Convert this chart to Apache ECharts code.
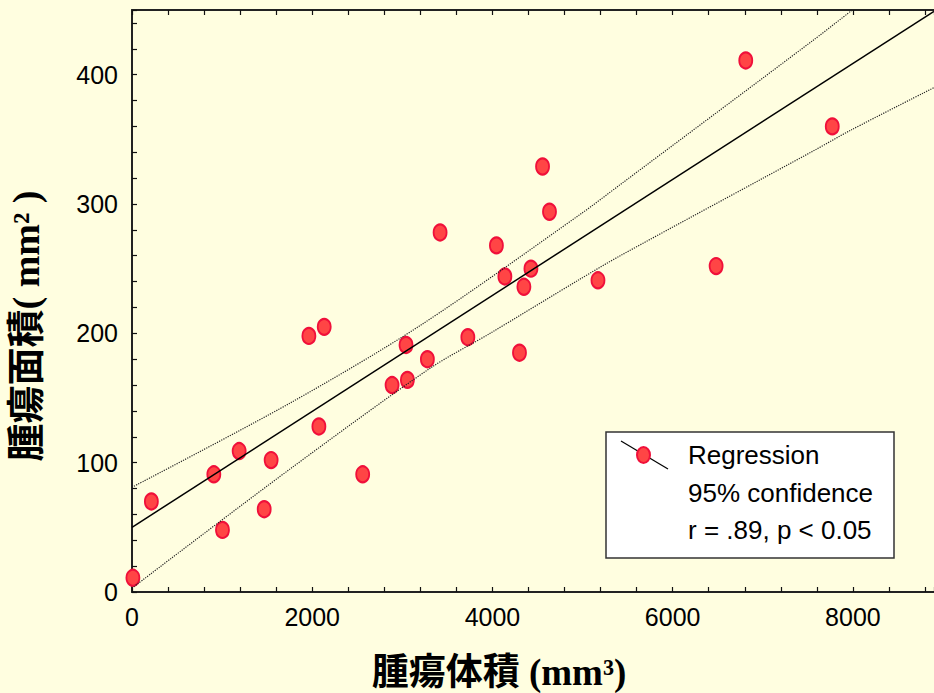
<!DOCTYPE html>
<html>
<head>
<meta charset="utf-8">
<script src="https://cdn.jsdelivr.net/npm/echarts@6/dist/echarts.min.js"></script>
<style>
html,body{margin:0;padding:0;background:#FFFEE0;}
#c{width:934px;height:693px;}
</style>
</head>
<body>
<div id="c"></div>
<script>
// ---- data ----
const tumorVolume = [10, 215, 908, 1004, 1189, 1467, 1544, 1963, 2133, 2074, 2560, 2886, 3056, 3041, 3278, 3727, 3419, 4044, 4138, 4427, 4349, 4300, 4556, 4633, 5171, 6482, 6811, 7771];
const tumorArea   = [11, 70, 91, 48, 109, 64, 102, 198, 205, 128, 91, 160, 164, 191, 180, 197, 278, 268, 244, 250, 236, 185, 329, 294, 241, 252, 411, 360];

const regressionX = [0, 8900];
const regressionY = [50, 449];

const upperBandX = [0, 1752, 3197, 4974, 5418, 7567, 7993];
const upperBandY = [81, 146, 206, 292, 315, 427, 450];

const lowerBandX = [0, 1752, 3308, 3974, 4974, 5418, 7586, 7974, 8900];
const lowerBandY = [3, 95, 173, 200, 242, 260, 342, 357, 390];

const xTickLabels = [0, 2000, 4000, 6000, 8000];
const yTickLabels = [0, 100, 200, 300, 400];

const xTitle = '腫瘍体積 (mm³)';
const yTitle = '腫瘍面積( mm² )';
const legendLines = ['Regression', '95% confidence', 'r = .89, p < 0.05'];

// ---- chart ----
const SANS = '"Liberation Sans", Arial, sans-serif';
const TITLEFONT = '"Liberation Serif", "Noto Sans CJK JP", serif';
const pairs = (xs, ys) => xs.map((x, i) => [x, ys[i]]);

const chart = echarts.init(document.getElementById('c'), null, {renderer: 'svg'});

function axisLine() { return {show: true, onZero: false, lineStyle: {color: '#222', width: 2}}; }
function axisTick() { return {show: true, inside: true, length: 5, lineStyle: {color: '#111', width: 1.2}}; }
function minorTick() { return {show: true, splitNumber: 5, length: 5, lineStyle: {color: '#111', width: 1.2}}; }

const option = {
  backgroundColor: '#FFFEE0',
  animation: false,
  grid: {left: 132, top: 10, width: 802, height: 582, containLabel: false, outerBoundsMode: 'none'},
  xAxis: [
    {
      type: 'value', min: 0, max: 8900, interval: 2000, position: 'bottom',
      axisLine: axisLine(), axisTick: axisTick(), minorTick: minorTick(),
      axisLabel: {
        show: true, margin: 12, color: '#000', fontSize: 25, fontFamily: SANS,
        formatter: v => xTickLabels.includes(v) ? String(v) : ''
      },
      splitLine: {show: false}, minorSplitLine: {show: false}
    },
    {
      type: 'value', min: 0, max: 8900, interval: 2000, position: 'top',
      axisLine: axisLine(), axisTick: axisTick(), minorTick: minorTick(),
      axisLabel: {show: false},
      splitLine: {show: false}, minorSplitLine: {show: false}
    }
  ],
  yAxis: [
    {
      type: 'value', min: 0, max: 450, interval: 100, position: 'left',
      axisLine: axisLine(), axisTick: axisTick(), minorTick: minorTick(),
      axisLabel: {
        show: true, margin: 14, color: '#000', fontSize: 25, fontFamily: SANS,
        formatter: v => yTickLabels.includes(v) ? String(v) : ''
      },
      splitLine: {show: false}, minorSplitLine: {show: false}
    }
  ],
  series: [
    {
      type: 'scatter', xAxisIndex: 0, yAxisIndex: 0,
      data: pairs(tumorVolume, tumorArea),
      symbol: 'circle', symbolSize: [13, 16],
      itemStyle: {color: '#FF4545', borderColor: '#F0103A', borderWidth: 2, opacity: 1},
      z: 2, silent: true
    },
    {
      type: 'line', data: pairs(regressionX, regressionY),
      showSymbol: false, symbol: 'none',
      lineStyle: {color: '#000', width: 1.5}, z: 3, silent: true
    },
    {
      type: 'line', data: pairs(upperBandX, upperBandY),
      showSymbol: false, symbol: 'none', smooth: 0.3,
      lineStyle: {color: '#222', width: 1.2, type: [1.2, 1.2]}, z: 3, silent: true
    },
    {
      type: 'line', data: pairs(lowerBandX, lowerBandY),
      showSymbol: false, symbol: 'none', smooth: 0.3,
      lineStyle: {color: '#222', width: 1.2, type: [1.2, 1.2]}, z: 3, silent: true
    }
  ],
  graphic: [
    {
      type: 'text', x: 499, y: 672, z: 10,
      style: {text: xTitle, fontSize: 37, fontWeight: 'bold', fontFamily: TITLEFONT,
              fill: '#000', align: 'center', verticalAlign: 'middle'}
    },
    {
      type: 'text', x: 26, y: 326, rotation: Math.PI / 2, z: 10,
      style: {text: yTitle, fontSize: 38, fontWeight: 'bold', fontFamily: TITLEFONT,
              fill: '#000', align: 'center', verticalAlign: 'middle'}
    },
    {
      type: 'group', z: 20,
      children: [
        {type: 'rect', shape: {x: 606, y: 432, width: 288, height: 126},
         style: {fill: '#fff', stroke: '#333', lineWidth: 1.5}},
        {type: 'line', shape: {x1: 621, y1: 441, x2: 668, y2: 469},
         style: {stroke: '#000', lineWidth: 1.2}},
        {type: 'ellipse', shape: {cx: 643.5, cy: 455, rx: 6.5, ry: 8},
         style: {fill: '#FF4545', stroke: '#F0103A', lineWidth: 2}},
        {type: 'text', x: 688, y: 455,
         style: {text: legendLines[0], fontSize: 26, fontFamily: SANS, fill: '#000', verticalAlign: 'middle'}},
        {type: 'text', x: 688, y: 493,
         style: {text: legendLines[1], fontSize: 26, fontFamily: SANS, fill: '#000', verticalAlign: 'middle'}},
        {type: 'text', x: 688, y: 530,
         style: {text: legendLines[2], fontSize: 26, fontFamily: SANS, fill: '#000', verticalAlign: 'middle'}}
      ]
    }
  ]
};
chart.setOption(option);
</script>
</body>
</html>
